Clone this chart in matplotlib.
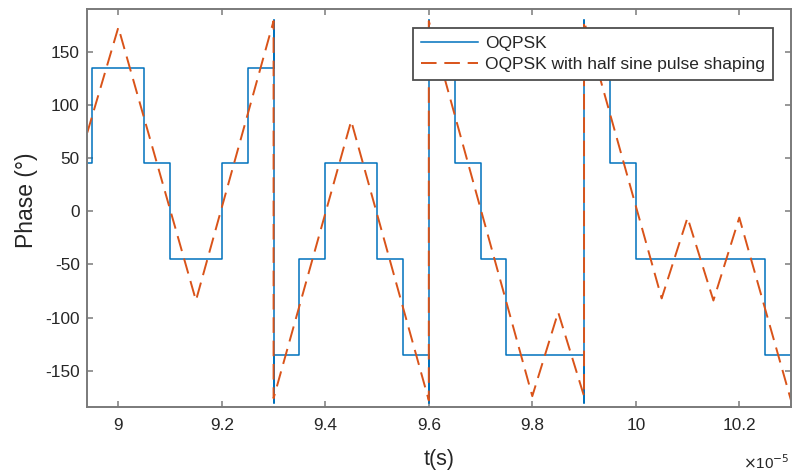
import numpy as np
import matplotlib
matplotlib.use("Agg")
import matplotlib.pyplot as plt
from matplotlib.ticker import FuncFormatter

plt.rcParams['font.family'] = ['Liberation Sans', 'DejaVu Sans']
plt.rcParams['axes.unicode_minus'] = False

# time in units of 1e-5 s, phase in degrees
blue_t = [8.94, 8.95, 9.05, 9.10, 9.20, 9.25, 9.30, 9.30, 9.30, 9.35, 9.40, 9.50, 9.55,
          9.60, 9.60, 9.60, 9.65, 9.70, 9.75, 9.90, 9.90, 9.90, 9.95, 10.00, 10.25, 10.30]
blue_phase = [45, 135, 45, -45, 45, 135, 180, -180, -135, -45, 45, -45, -135,
              -180, 180, 135, 45, -45, -135, -180, 180, 135, 45, -45, -135, -135]

red_t = [8.94, 9.00, 9.15, 9.30, 9.30, 9.45, 9.60, 9.60, 9.80, 9.85, 9.90, 9.90,
         10.05, 10.10, 10.15, 10.20, 10.30]
red_phase = [74, 173, -84, 179, -176, 85, -178, 179, -174, -95, -174, 179,
             -82, -6, -84, -6, -178]

xtick_vals = [9.0, 9.2, 9.4, 9.6, 9.8, 10.0, 10.2]
ytick_vals = [-150, -100, -50, 0, 50, 100, 150]

scale = 1e-5
blue_c = '#0072BD'
red_c = '#D95319'
axis_c = '#7a7a7a'
text_c = '#262626'

fig = plt.figure(figsize=(7.95, 4.71), dpi=100)
ax = fig.add_axes([0.1098, 0.1352, 0.8852, 0.845])

ax.step(np.array(blue_t) * scale, blue_phase, where='post', color=blue_c, lw=1.1,
        label='OQPSK')
ax.plot(np.array(red_t) * scale, red_phase, color=red_c, lw=1.4, linestyle=(0, (8, 4)),
        label='OQPSK with half sine pulse shaping')

ax.set_xlim(8.94 * scale, 10.3 * scale)
ax.set_ylim(-184.5, 190)
ax.set_xticks(np.array(xtick_vals) * scale)
ax.set_yticks(ytick_vals)
ax.xaxis.set_major_formatter(FuncFormatter(lambda v, p: f"{v / scale:g}"))

for s in ax.spines.values():
    s.set_color(axis_c)
    s.set_linewidth(1.4)
ax.tick_params(direction='in', length=4, width=1.1, color=axis_c, labelcolor=text_c,
               labelsize=12.4, top=True, right=True)
ax.tick_params(axis='x', pad=8)
ax.tick_params(axis='y', pad=5.5)

ax.set_ylabel('Phase (°)', fontsize=16.5, color=text_c)
ax.yaxis.set_label_coords(-0.07, 0.521)
ax.set_xlabel('t(s)', fontsize=15.5, color=text_c)
ax.xaxis.set_label_coords(0.5, -0.105)
ax.text(0.9986, -0.155, r'$\times$10$^{-5}$', transform=ax.transAxes, ha='right',
        va='baseline', fontsize=11, color=text_c)

leg = ax.legend(loc='upper right', bbox_to_anchor=(0.974, 0.952), borderaxespad=0,
                fontsize=12.5, fancybox=False, framealpha=1, edgecolor='#4d4d4d',
                handlelength=3.3, handletextpad=0.4, borderpad=0.45, labelspacing=0.3)
leg.get_frame().set_linewidth(1.3)
for t in leg.get_texts():
    t.set_color(text_c)

fig.savefig('out.png', dpi=100)
